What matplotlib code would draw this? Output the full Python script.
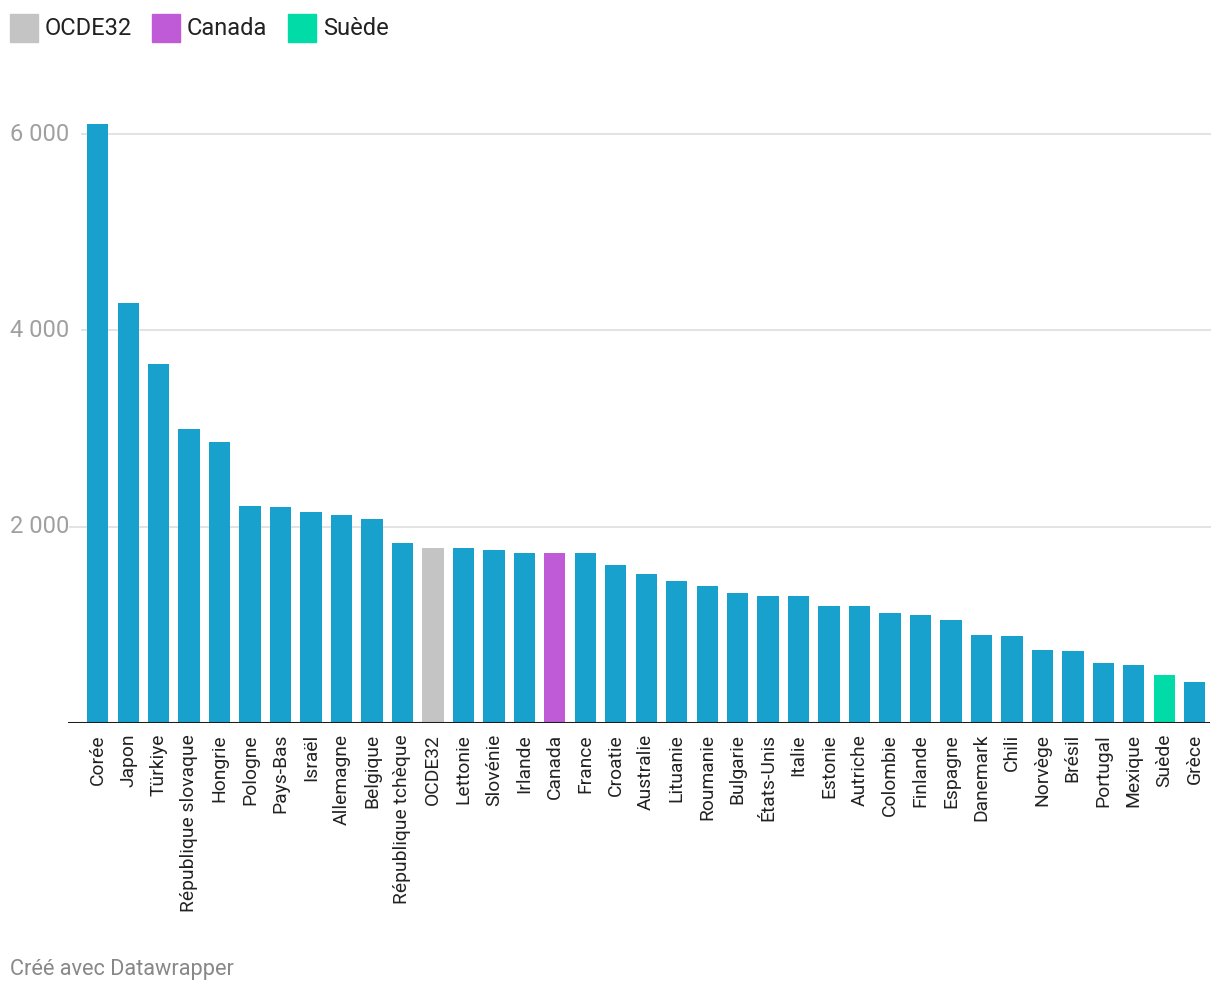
import matplotlib
matplotlib.use("Agg")
import matplotlib.pyplot as plt
import matplotlib.transforms as mtransforms

plt.rcParams['font.family'] = ['Roboto', 'DejaVu Sans']

countries = ["Corée", "Japon", "Türkiye", "République slovaque", "Hongrie", "Pologne",
             "Pays-Bas", "Israël", "Allemagne", "Belgique", "République tchèque", "OCDE32",
             "Lettonie", "Slovénie", "Irlande", "Canada", "France", "Croatie", "Australie",
             "Lituanie", "Roumanie", "Bulgarie", "États-Unis", "Italie", "Estonie", "Autriche",
             "Colombie", "Finlande", "Espagne", "Danemark", "Chili", "Norvège", "Brésil",
             "Portugal", "Mexique", "Suède", "Grèce"]
values = [6109, 4283, 3660, 2997, 2864, 2212,
          2202, 2150, 2119, 2078, 1833, 1782,
          1782, 1762, 1731, 1731, 1731, 1607, 1513,
          1442, 1391, 1319, 1288, 1288, 1186, 1186,
          1115, 1104, 1053, 900, 880, 747, 736,
          614, 593, 491, 419]
highlight = {"OCDE32": "#c4c4c4", "Canada": "#c05bd8", "Suède": "#00dba8"}
base_color = "#18a1cd"
yticks = [2000, 4000, 6000]
ytick_labels = ["2 000", "4 000", "6 000"]
legend_items = ["OCDE32", "Canada", "Suède"]
footer = "Créé avec Datawrapper"

W, H = 1220, 992
fig = plt.figure(figsize=(W / 100, H / 100), dpi=100)
ax_left, ax_right = 68, 1210
ax_bottom, ax_top = 722.8, 109.7
ax = fig.add_axes([ax_left / W, 1 - ax_bottom / H, (ax_right - ax_left) / W, (ax_bottom - ax_top) / H])

colors = [highlight.get(c, base_color) for c in countries]
x = list(range(len(countries)))
ax.bar(x, values, width=0.70, color=colors, zorder=3)

ax.set_xlim(-0.975, len(countries) - 0.5)
ax.set_ylim(0, 6250)

for s in ax.spines.values():
    s.set_visible(False)
ax.axhline(0, color="#1d1d1d", linewidth=2.2, zorder=4)

# gridlines and y labels
trans = mtransforms.blended_transform_factory(fig.transFigure, ax.transData)
grid_start = {2000: 70, 4000: 82, 6000: 82}
for v, lab in zip(yticks, ytick_labels):
    ax.plot([grid_start[v] / W, ax_right / W], [v, v], transform=trans, color="#e3e3e3",
            linewidth=1.4, zorder=1, clip_on=False)
    ax.text(10 / W, v, lab, transform=trans, fontsize=17, color="#a0a0a0",
            ha="left", va="center", clip_on=False)
ax.set_yticks([])

ax.set_xticks(x)
ax.set_xticklabels(countries, rotation=90, fontsize=13.9, color="#222222")
ax.tick_params(axis="x", length=0, pad=8)

# legend
sq = 28
lx = [10, 152, 288]
for xi, name in zip(lx, legend_items):
    fig.patches.append(plt.Rectangle((xi / W, 1 - 42 / H), sq / W, sq / H,
                                     transform=fig.transFigure, color=highlight[name]))
    fig.text((xi + sq + 7) / W, 1 - 28.5 / H, name, fontsize=17, color="#222222",
             ha="left", va="center")

fig.text(10 / W, 1 - 969 / H, footer, fontsize=15.7, color="#888888", ha="left", va="center")

fig.savefig("out.png", dpi=100)
